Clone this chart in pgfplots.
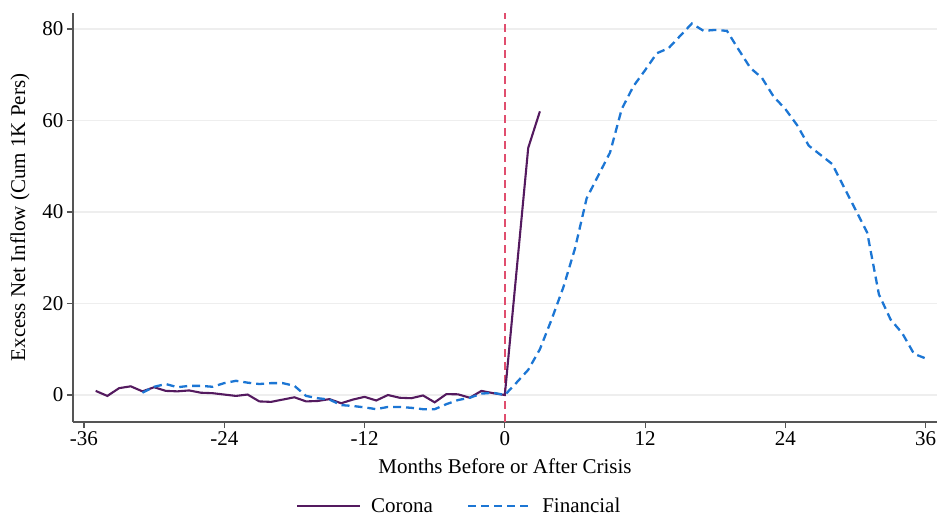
\documentclass[border=0pt]{standalone}
\usepackage{fontspec}
\setmainfont{Liberation Serif}
\usepackage{pgfplots}
\pgfplotsset{compat=1.18}
\definecolor{corona}{RGB}{84,26,95}
\definecolor{fin}{RGB}{28,118,212}
\definecolor{vred}{RGB}{224,78,110}
\definecolor{axgray}{RGB}{85,85,85}
\definecolor{gridgray}{RGB}{238,238,238}
\begin{document}
\begin{tikzpicture}[font=\fontsize{21}{25}\selectfont]
\begin{axis}[
  at={(0pt,0pt)}, anchor=south west,
  scale only axis, width=864pt, height=409pt,
  xmin=-36.94, xmax=36.97, ymin=-5.9, ymax=83.5,
  axis x line=bottom, axis y line=left,
  axis line style={-, color=axgray, line width=1.2pt},
  xtick={-36,-24,-12,0,12,24,36},
  xticklabels={-36,-24,-12,0,12,24,36},
  ytick={0,20,40,60,80},
  yticklabels={0,20,40,60,80},
  tick align=outside, major tick length=6pt,
  tick style={color=axgray, line width=1.2pt},
  ymajorgrids, grid style={color=gridgray, line width=1.2pt},
  xlabel={Months Before or After Crisis},
  ylabel={Excess Net Inflow (Cum 1K Pers)},
  xlabel style={at={(axis description cs:0.5,-0.1076)}, anchor=center},
  ylabel style={at={(axis description cs:-0.0613,0.5)}, anchor=center},
  legend style={at={(axis description cs:0.447,-0.205)}, anchor=center, draw=none, fill=none, legend columns=2,
    /tikz/every odd column/.append style={column sep=8pt},
    /tikz/every even column/.append style={column sep=32pt}},
  legend image code/.code={\draw[#1] (0pt,0pt) -- (63pt,0pt);},
  clip=false,
]
\addplot[vred, line width=1.6pt, dash pattern=on 8pt off 5pt, forget plot] coordinates {(0,-5.9) (0,83.5)};
\addplot[corona, line width=2.1pt] coordinates {
(-35,0.9) (-34,-0.2) (-33,1.5) (-32,1.9) (-31,0.8) (-30,1.7) (-29,0.9) (-28,0.8) (-27,1.0) (-26,0.5)
(-25,0.4) (-24,0.1) (-23,-0.2) (-22,0.1) (-21,-1.4) (-20,-1.5) (-19,-1.0) (-18,-0.5) (-17,-1.4) (-16,-1.3)
(-15,-0.9) (-14,-1.8) (-13,-1.0) (-12,-0.4) (-11,-1.2) (-10,0.0) (-9,-0.6) (-8,-0.7) (-7,-0.1) (-6,-1.6)
(-5,0.2) (-4,0.15) (-3,-0.6) (-2,0.9) (-1,0.4) (0,0) (1,27) (2,54) (3,62)
};
\addlegendentry{Corona}
\addplot[fin, line width=2.3pt, dash pattern=on 8pt off 5pt] coordinates {
(-31,0.5) (-30,1.8) (-29,2.4) (-28,1.7) (-27,2.0) (-26,2.0) (-25,1.8) (-24,2.6) (-23,3.1) (-22,2.7)
(-21,2.4) (-20,2.6) (-19,2.6) (-18,2.0) (-17,-0.2) (-16,-0.7) (-15,-1.0) (-14,-2.2) (-13,-2.4) (-12,-2.7)
(-11,-3.1) (-10,-2.6) (-9,-2.6) (-8,-2.8) (-7,-3.1) (-6,-3.1) (-5,-2.0) (-4,-1.1) (-3,-0.6) (-2,0.3)
(-1,0.5) (0,0) (1,2.7) (2,5.5) (3,10) (4,16.5) (5,23.5) (6,32) (7,43) (8,48)
(9,53) (10,62.5) (11,67.5) (12,71) (13,74.7) (14,75.8) (15,78.5) (16,81.2) (17,79.6) (18,79.8)
(19,79.6) (20,75.5) (21,71.5) (22,69.3) (23,65.2) (24,62.5) (25,59) (26,54.5) (27,52.5) (28,50.5)
(29,45.5) (30,40.5) (31,35.5) (32,22) (33,16.5) (34,13.5) (35,9) (36,8)
};
\addlegendentry{Financial}
\end{axis}
\pgfresetboundingbox
\path[use as bounding box] (-73pt,-93pt) rectangle (865pt,422pt);
\end{tikzpicture}
\end{document}
